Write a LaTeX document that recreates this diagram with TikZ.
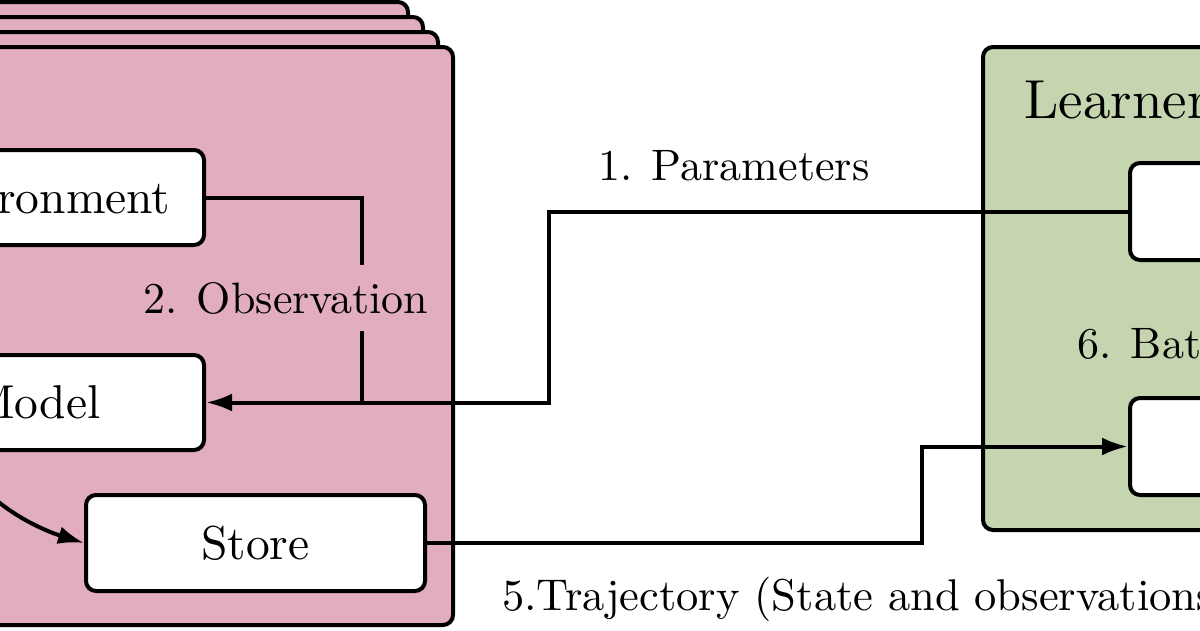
\documentclass[tikz,border=0pt]{standalone}
\usepackage{graphicx}
\usetikzlibrary{arrows.meta}
\definecolor{envpink}{RGB}{225,173,191}
\definecolor{lrngreen}{RGB}{197,213,175}
\newcommand{\boxtxt}[1]{\scalebox{4.75}{#1}}
\newcommand{\lbltxt}[1]{\scalebox{4.4}{#1}}
\newcommand{\ttltxt}[1]{\scalebox{5.5}{#1}}
\begin{document}
\begin{tikzpicture}[x=1pt,y=-1pt,
  panel/.style={draw, line width=4pt, rounded corners=10pt},
  wbox/.style={draw, fill=white, line width=4pt, rounded corners=10pt, inner sep=0pt, minimum height=95pt},
  conn/.style={line width=4pt},
  arr/.style={line width=4pt, -{Latex[length=26pt,width=18pt]}},
  lbl/.style={inner sep=0pt, anchor=base west}]
\useasboundingbox (0,0) rectangle (1200,630);
% stacked environment panels
\draw[panel, fill=envpink] (-445,2) rectangle (408,580);
\draw[panel, fill=envpink] (-430,17) rectangle (423,595);
\draw[panel, fill=envpink] (-415,32) rectangle (438,610);
\draw[panel, fill=envpink] (-400,47) rectangle (453,625);
% learner panel
\draw[panel, fill=lrngreen] (983,47) rectangle (1600,530);
% boxes
\node[wbox, minimum width=336pt] (env) at (36,197.5) {\boxtxt{Environment}};
\node[wbox, minimum width=336pt] (model) at (36,402.5) {\boxtxt{Model}};
\node[wbox, minimum width=339pt, minimum height=96pt] (store) at (255.5,543) {\boxtxt{Store}};
\node[wbox, minimum width=370pt, minimum height=97pt] (ltop) at (1315,211.5) {};
\node[wbox, minimum width=370pt, minimum height=97pt] (lbot) at (1315,446.5) {};
\node[lbl] (ttl) at (1024,118) {\ttltxt{Learner}};
% connectors
\coordinate (pbend) at (549,211.5);
\coordinate (obsj) at (362,402.5);
\coordinate (tbend) at (922,543);
\draw[arr] (ltop.west) -- (pbend) |- (model.east);
\draw[conn] (env.east) -| (obsj);
\draw[arr] (store.east) -- (tbend) |- (lbot.west);
\draw[arr] ([xshift=-74pt]model.south) .. controls +(15,50) and +(-42,-13) .. (store.west);
% labels
\node[lbl] (lpar) at (598,180) {\lbltxt{1. Parameters}};
\node[lbl, fill=envpink, inner ysep=17pt] (lobs) at (143,313) {\lbltxt{2. Observation}};
\node[lbl] (lbat) at (1077,358) {\lbltxt{6. Batch}};
\node[lbl] (ltraj) at (502,610) {\scalebox{4.45}{5.Trajectory (State and observations)}};
\end{tikzpicture}
\end{document}
